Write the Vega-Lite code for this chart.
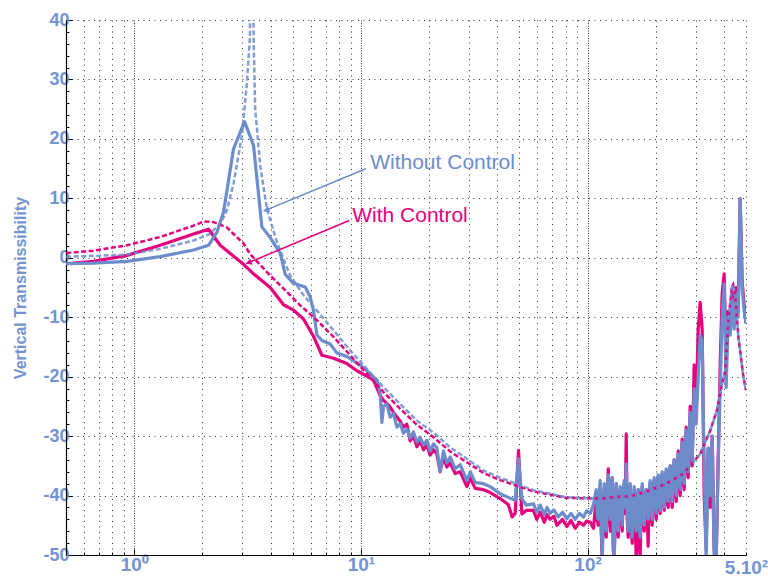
{
"$schema": "https://vega.github.io/schema/vega-lite/v6.json",
"width": 680, "height": 535,
"autosize": "none",
"padding": {"left": 66, "top": 20, "right": 22, "bottom": 28},
"background": "white",
"config": {"view": {"stroke": null}},
"datasets": {
"blueSolid": [
{"f":0.501,"db":-1.0},{"f":0.661,"db":-0.9},{"f":0.929,"db":-0.6},{"f":1.302,"db":0.2},{"f":1.827,"db":1.3},{"f":2.127,"db":2.1},{"f":2.317,"db":4.3},{"f":2.477,"db":7.7},{"f":2.742,"db":18.3},{"f":3.066,"db":22.9},{"f":3.359,"db":18.9},{"f":3.658,"db":5.2},{"f":3.98,"db":3.4},{"f":4.406,"db":0.8},{"f":4.635,"db":-2.8},{"f":5.043,"db":-4.3},{"f":5.679,"db":-4.9},{"f":5.975,"db":-6.6},{"f":6.178,"db":-8.9},{"f":6.395,"db":-13.0},{"f":6.73,"db":-13.9},{"f":7.321,"db":-14.5},{"f":7.836,"db":-16.0},{"f":8.675,"db":-16.6},{"f":9.929,"db":-18.1},{"f":10.63,"db":-19.0},{"f":11.37,"db":-20.1},{"f":11.8,"db":-20.6},{"f":12.17,"db":-22.9},{"f":12.38,"db":-27.7},{"f":12.58,"db":-25.0},{"f":13.02,"db":-24.6},{"f":13.46,"db":-26.8},{"f":13.92,"db":-26.2},{"f":14.42,"db":-28.5},{"f":14.91,"db":-27.9},{"f":15.41,"db":-29.5},{"f":15.95,"db":-28.8},{"f":16.5,"db":-30.3},{"f":17.06,"db":-29.3},{"f":17.66,"db":-31.0},{"f":18.26,"db":-30.2},{"f":18.89,"db":-31.5},{"f":19.55,"db":-30.7},{"f":20.21,"db":-32.5},{"f":20.91,"db":-31.3},{"f":21.64,"db":-32.0},{"f":22.38,"db":-35.9},{"f":23.14,"db":-32.5},{"f":23.95,"db":-34.5},{"f":24.77,"db":-33.5},{"f":26.06,"db":-35.5},{"f":27.42,"db":-34.8},{"f":29.35,"db":-37.5},{"f":30.35,"db":-36.0},{"f":31.93,"db":-37.8},{"f":34.74,"db":-38.0},{"f":37.19,"db":-38.5},{"f":41.16,"db":-39.7},{"f":44.65,"db":-40.3},{"f":47.93,"db":-40.8},{"f":49.58,"db":-33.8},{"f":51.31,"db":-40.5},{"f":53.6,"db":-41.6},{"f":57.72,"db":-41.4},{"f":59.7,"db":-42.8},{"f":61.78,"db":-41.6},{"f":64.5,"db":-43.2},{"f":66.2,"db":-42.0},{"f":68.39,"db":-43.0},{"f":71.0,"db":-42.4},{"f":74.2,"db":-43.6},{"f":77.5,"db":-42.8},{"f":81.03,"db":-43.9},{"f":84.5,"db":-43.0},{"f":88.2,"db":-44.0},{"f":92.0,"db":-43.0},{"f":95.92,"db":-43.6},{"f":99.0,"db":-42.6},{"f":102.8,"db":-43.0},{"f":106.2,"db":-41.5},
{"f":109.2,"db":-39},{"f":111.4,"db":-44},{"f":113.7,"db":-37.5},{"f":116.1,"db":-50},{"f":118.4,"db":-38},{"f":120.9,"db":-46},{"f":123.4,"db":-36.5},{"f":125.9,"db":-44},{"f":128.5,"db":-37},{"f":131.1,"db":-51},{"f":133.8,"db":-38},{"f":136.5,"db":-46},{"f":139.3,"db":-38.5},{"f":142.2,"db":-45},{"f":145.1,"db":-37.5},{"f":148.1,"db":-34.7},{"f":151.1,"db":-46},{"f":154.2,"db":-38},{"f":157.4,"db":-47},{"f":160.6,"db":-38.5},{"f":163.9,"db":-46},{"f":167.3,"db":-39},{"f":170.7,"db":-47},{"f":174.2,"db":-38},{"f":177.8,"db":-45},{"f":181.4,"db":-39},{"f":185.1,"db":-44},{"f":188.9,"db":-37.5},{"f":192.8,"db":-44},{"f":196.8,"db":-37},{"f":200.8,"db":-43},{"f":204.9,"db":-36.5},{"f":209.1,"db":-42.5},{"f":213.4,"db":-36},{"f":217.8,"db":-42},{"f":222.3,"db":-35.5},{"f":226.8,"db":-41},{"f":231.5,"db":-35},{"f":236.2,"db":-41},{"f":241.1,"db":-34},{"f":246.0,"db":-40},{"f":251.1,"db":-33},{"f":256.2,"db":-39},{"f":261.5,"db":-31},{"f":266.8,"db":-38},{"f":272.3,"db":-29},{"f":277.9,"db":-36},{"f":283.6,"db":-26},{"f":289.4,"db":-34},{"f":295.3,"db":-22},{"f":301.4,"db":-28},{"f":307.6,"db":-20},{"f":313.9,"db":-13},{"f":320.3,"db":-14},{"f":326.9,"db":-35},{"f":333.6,"db":-51},{"f":340.5,"db":-32},{"f":347.5,"db":-40},{"f":354.6,"db":-30},{"f":361.9,"db":-51},{"f":369.3,"db":-50},{"f":376.9,"db":-35},{"f":384.6,"db":-22},{"f":392.5,"db":-10},{"f":400.6,"db":-4.4},{"f":408.8,"db":-21.8},{"f":417.2,"db":-10},{"f":425.7,"db":-13},{"f":434.5,"db":-7},{"f":443.4,"db":-12},{"f":452.5,"db":-6},{"f":461.8,"db":-10},{"f":471.2,"db":9.9},{"f":480.9,"db":-5},{"f":490.8,"db":-9},{"f":500,"db":-11},
{"f":110.3,"db":-43},{"f":112.5,"db":-40},{"f":114.9,"db":-45},{"f":117.3,"db":-41},{"f":119.6,"db":-44},{"f":122.1,"db":-39},{"f":124.7,"db":-42},{"f":127.2,"db":-38},{"f":129.8,"db":-48},{"f":132.4,"db":-42},{"f":135.2,"db":-44},{"f":137.9,"db":-40},{"f":140.7,"db":-43},{"f":143.6,"db":-39},{"f":146.6,"db":-42},{"f":149.6,"db":-43},{"f":152.6,"db":-40},{"f":155.8,"db":-44},{"f":159.0,"db":-41},{"f":162.2,"db":-43},{"f":165.6,"db":-40},{"f":169.0,"db":-45},{"f":172.4,"db":-41},{"f":176.0,"db":-43},{"f":179.6,"db":-40},{"f":183.3,"db":-42},{"f":187.0,"db":-39},{"f":190.8,"db":-42},{"f":194.8,"db":-38},{"f":198.8,"db":-41},{"f":202.8,"db":-38},{"f":207.0,"db":-41},{"f":211.2,"db":-37},{"f":215.6,"db":-40},{"f":220.0,"db":-37},{"f":224.6,"db":-40},{"f":229.1,"db":-36},{"f":233.9,"db":-39},{"f":238.6,"db":-36},{"f":243.6,"db":-38},{"f":248.5,"db":-35},{"f":253.7,"db":-37},{"f":258.8,"db":-34},{"f":264.2,"db":-36},{"f":269.5,"db":-32},{"f":275.1,"db":-34},{"f":280.7,"db":-30}
],
"magSolid": [
{"f":0.501,"db":-1.0},{"f":0.661,"db":-0.6},{"f":0.929,"db":0.4},{"f":1.302,"db":2.1},{"f":1.827,"db":4.0},{"f":2.127,"db":4.8},{"f":2.395,"db":2.1},{"f":3.035,"db":-1.1},{"f":3.359,"db":-2.7},{"f":3.98,"db":-5.0},{"f":4.556,"db":-7.9},{"f":5.043,"db":-8.8},{"f":5.581,"db":-10.3},{"f":6.178,"db":-13.2},{"f":6.73,"db":-16.4},{"f":7.57,"db":-16.9},{"f":8.675,"db":-17.8},{"f":9.603,"db":-19.0},{"f":10.63,"db":-19.9},{"f":11.37,"db":-20.6},{"f":11.8,"db":-22.0},{"f":12.17,"db":-23.2},{"f":12.58,"db":-24.0},{"f":13.02,"db":-24.5},{"f":13.46,"db":-25.1},{"f":13.92,"db":-26.0},{"f":14.42,"db":-26.8},{"f":14.91,"db":-27.5},{"f":15.41,"db":-28.5},{"f":15.95,"db":-28.0},{"f":16.5,"db":-30.8},{"f":17.06,"db":-30.0},{"f":17.66,"db":-31.8},{"f":18.26,"db":-30.8},{"f":18.89,"db":-32.3},{"f":19.55,"db":-31.5},{"f":20.21,"db":-33.2},{"f":20.91,"db":-32.3},{"f":21.64,"db":-33.0},{"f":22.38,"db":-36.0},{"f":23.14,"db":-33.5},{"f":23.95,"db":-35.2},{"f":24.77,"db":-34.5},{"f":26.06,"db":-36.3},{"f":27.42,"db":-36.0},{"f":29.35,"db":-38.5},{"f":30.35,"db":-37.0},{"f":31.93,"db":-38.8},{"f":34.74,"db":-39.0},{"f":37.19,"db":-39.5},{"f":41.16,"db":-40.5},{"f":44.65,"db":-41.5},{"f":46.5,"db":-43.6},{"f":47.93,"db":-43.0},{"f":49.58,"db":-32.4},{"f":51.31,"db":-43.1},{"f":53.6,"db":-42.5},{"f":57.72,"db":-42.5},{"f":59.7,"db":-44.0},{"f":61.78,"db":-42.8},{"f":64.5,"db":-44.5},{"f":66.2,"db":-43.2},{"f":68.39,"db":-44.0},{"f":71.0,"db":-43.5},{"f":73.2,"db":-45.0},{"f":77.5,"db":-44.0},{"f":81.03,"db":-45.2},{"f":84.5,"db":-44.2},{"f":88.2,"db":-45.5},{"f":92.0,"db":-44.5},{"f":95.92,"db":-45.0},{"f":99.0,"db":-44.3},{"f":102.8,"db":-44.5},{"f":106.2,"db":-45.5},
{"f":109.2,"db":-40.5},{"f":111.4,"db":-45},{"f":113.7,"db":-39},{"f":116.1,"db":-51},{"f":118.4,"db":-39},{"f":120.9,"db":-47},{"f":123.4,"db":-35.5},{"f":125.9,"db":-46},{"f":128.5,"db":-37},{"f":131.1,"db":-51},{"f":133.8,"db":-38},{"f":136.5,"db":-47},{"f":139.3,"db":-39},{"f":142.2,"db":-46},{"f":145.1,"db":-38},{"f":148.1,"db":-29.6},{"f":151.1,"db":-47},{"f":154.2,"db":-38.5},{"f":157.4,"db":-48},{"f":160.6,"db":-39},{"f":163.9,"db":-51},{"f":167.3,"db":-39},{"f":170.7,"db":-50},{"f":174.2,"db":-38.5},{"f":177.8,"db":-46},{"f":181.4,"db":-39},{"f":185.1,"db":-48.5},{"f":188.9,"db":-38},{"f":192.8,"db":-45},{"f":196.8,"db":-37.5},{"f":200.8,"db":-44},{"f":204.9,"db":-37},{"f":209.1,"db":-43},{"f":213.4,"db":-36.5},{"f":217.8,"db":-42.5},{"f":222.3,"db":-36},{"f":226.8,"db":-42},{"f":231.5,"db":-35},{"f":236.2,"db":-42},{"f":241.1,"db":-34},{"f":246.0,"db":-41},{"f":251.1,"db":-32.5},{"f":256.2,"db":-40},{"f":261.5,"db":-30.5},{"f":266.8,"db":-39},{"f":272.3,"db":-28.5},{"f":277.9,"db":-37},{"f":283.6,"db":-25},{"f":289.4,"db":-35},{"f":295.3,"db":-18},{"f":301.4,"db":-26},{"f":307.6,"db":-12},{"f":313.9,"db":-7.5},{"f":320.3,"db":-12},{"f":326.9,"db":-40},{"f":333.6,"db":-49},{"f":340.5,"db":-32},{"f":347.5,"db":-42},{"f":354.6,"db":-30},{"f":361.9,"db":-49},{"f":369.3,"db":-51},{"f":376.9,"db":-34},{"f":384.6,"db":-18},{"f":392.5,"db":-6},{"f":400.6,"db":-2.7},{"f":408.8,"db":-18},{"f":417.2,"db":-9},{"f":425.7,"db":-12},{"f":434.5,"db":-6},{"f":443.4,"db":-11},{"f":452.5,"db":-5},{"f":461.8,"db":-9},{"f":471.2,"db":9.9},{"f":480.9,"db":-4},{"f":490.8,"db":-8},{"f":500,"db":-11},
{"f":110.3,"db":-44},{"f":112.5,"db":-41},{"f":114.9,"db":-46},{"f":117.3,"db":-42},{"f":119.6,"db":-45},{"f":122.1,"db":-40},{"f":124.7,"db":-43},{"f":127.2,"db":-39},{"f":129.8,"db":-49},{"f":132.4,"db":-43},{"f":135.2,"db":-45},{"f":137.9,"db":-41},{"f":140.7,"db":-44},{"f":143.6,"db":-40},{"f":146.6,"db":-43},{"f":149.6,"db":-44},{"f":152.6,"db":-41},{"f":155.8,"db":-45},{"f":159.0,"db":-42},{"f":162.2,"db":-44},{"f":165.6,"db":-48},{"f":169.0,"db":-46},{"f":172.4,"db":-42},{"f":176.0,"db":-44},{"f":179.6,"db":-41},{"f":183.3,"db":-43},{"f":187.0,"db":-40},{"f":190.8,"db":-43},{"f":194.8,"db":-39},{"f":198.8,"db":-42},{"f":202.8,"db":-39},{"f":207.0,"db":-42},{"f":211.2,"db":-38},{"f":215.6,"db":-41},{"f":220.0,"db":-38},{"f":224.6,"db":-41},{"f":229.1,"db":-37},{"f":233.9,"db":-40},{"f":238.6,"db":-37},{"f":243.6,"db":-39},{"f":248.5,"db":-36},{"f":253.7,"db":-38},{"f":258.8,"db":-35},{"f":264.2,"db":-37},{"f":269.5,"db":-33},{"f":275.1,"db":-35},{"f":280.7,"db":-31}
],
"blueDash": [
{"f":0.501,"db":0.2},{"f":0.661,"db":0.3},{"f":0.929,"db":0.55},{"f":1.302,"db":1.5},{"f":1.827,"db":2.9},{"f":2.127,"db":3.9},{"f":2.395,"db":5.7},{"f":2.564,"db":8.0},{"f":2.742,"db":12.5},{"f":2.987,"db":20.6},{"f":3.142,"db":29.5},{"f":3.238,"db":37},{"f":3.289,"db":70},{"f":3.366,"db":36},{"f":3.418,"db":25},{"f":3.595,"db":15.5},{"f":3.849,"db":8.2},{"f":4.262,"db":2.6},{"f":4.877,"db":-3.0},{"f":5.581,"db":-6.3},{"f":6.395,"db":-8.9},{"f":7.57,"db":-12.2},{"f":8.97,"db":-15.6},{"f":10.63,"db":-18.7},{"f":12.58,"db":-21.8},{"f":14.91,"db":-24.6},{"f":17.66,"db":-27.4},{"f":20.91,"db":-29.4},{"f":24.77,"db":-31.9},{"f":29.35,"db":-33.8},{"f":34.74,"db":-35.8},{"f":41.16,"db":-37.0},{"f":57.72,"db":-39.1},{"f":81.03,"db":-40.3},{"f":113.7,"db":-40.5},{"f":159.4,"db":-40.0},{"f":188.9,"db":-39.1},{"f":222.3,"db":-38.0},{"f":264.8,"db":-36.3},{"f":313.9,"db":-33.0},{"f":347.5,"db":-29.1},{"f":371.8,"db":-25.7},{"f":392.5,"db":-21.2},{"f":404.6,"db":-19},{"f":418.3,"db":-10.5},{"f":433.0,"db":-4.9},{"f":438.8,"db":-4.5},{"f":448.0,"db":-6.5},{"f":463.1,"db":-13.4},{"f":487.2,"db":-20.1},{"f":500,"db":-22.3}
],
"magDash": [
{"f":0.501,"db":0.8},{"f":0.661,"db":1.2},{"f":0.929,"db":2.1},{"f":1.302,"db":3.5},{"f":1.827,"db":5.4},{"f":2.022,"db":6.1},{"f":2.238,"db":6.0},{"f":2.564,"db":5.1},{"f":2.742,"db":4.0},{"f":3.035,"db":2.4},{"f":3.249,"db":0.6},{"f":3.849,"db":-2.4},{"f":4.556,"db":-5.2},{"f":5.398,"db":-8.0},{"f":6.395,"db":-10.5},{"f":7.57,"db":-13.3},{"f":8.97,"db":-16.4},{"f":10.63,"db":-19.5},{"f":12.58,"db":-22.6},{"f":14.91,"db":-25.4},{"f":17.66,"db":-28.1},{"f":20.91,"db":-30.2},{"f":24.77,"db":-32.6},{"f":29.35,"db":-34.4},{"f":34.74,"db":-36.2},{"f":41.16,"db":-37.4},{"f":57.72,"db":-39.3},{"f":81.03,"db":-40.4},{"f":113.7,"db":-40.5},{"f":159.4,"db":-40.0},{"f":188.9,"db":-39.1},{"f":222.3,"db":-38.0},{"f":264.8,"db":-36.3},{"f":313.9,"db":-33.0},{"f":347.5,"db":-29.1},{"f":371.8,"db":-25.7},{"f":392.5,"db":-21.2},{"f":404.6,"db":-19},{"f":418.3,"db":-10.5},{"f":433.0,"db":-4.9},{"f":438.8,"db":-4.5},{"f":448.0,"db":-6.5},{"f":463.1,"db":-13.4},{"f":487.2,"db":-20.1},{"f":500,"db":-22.3}
],
"notes": [
{"s":"Without Control","f":10.99,"db":15.86,"f2":3.72,"db2":7.84,"fs":10.52,"dbs":14.97,"fh":3.825,"dbh":8.02},
{"s":"With Control","f":9.155,"db":6.95,"f2":3.11,"db2":-1.01,"fs":8.88,"dbs":6.28,"fh":3.20,"dbh":-0.82}
]
},
"encoding": {
"x": {"field":"f","type":"quantitative","scale":{"type":"log","domain":[0.5,500],"nice":false},
"axis":{"values":[0.5,0.6,0.7,0.8,0.9,1,2,3,4,5,6,7,8,9,10,20,30,40,50,60,70,80,90,100,200,300,400,500],
"labelExpr":"datum.value==1?'10⁰':datum.value==10?'10¹':datum.value==100?'10²':datum.value==500?'5.10²':''",
"title":null,"labelOverlap":false,"labelFlush":false,
"labelFont":"Liberation Sans","labelFontSize":19,"labelFontWeight":"bold","labelColor":"#7393d3","labelPadding":6,
"tickSize":{"condition":{"test":"datum.value==1||datum.value==10||datum.value==100","value":-6},"value":-3},
"tickColor":"#000","domainColor":"#000","domainWidth":1.2,
"grid":true,"gridColor":"#333","gridWidth":1,
"gridDash":{"condition":{"test":"datum.value==1||datum.value==10||datum.value==100","value":[1,1.5]},"value":[1,4.5]}}},
"y": {"field":"db","type":"quantitative","scale":{"domain":[-50,40],"nice":false,"zero":false},"axis":null}
},
"layer": [
{"data":{"name":"magSolid"},"mark":{"type":"line","color":"#e6007e","strokeWidth":3.2,"clip":true,"strokeJoin":"round"},
"encoding":{"y":{"field":"db","type":"quantitative","scale":{"domain":[-50,40],"nice":false,"zero":false},
"axis":{"values":[-50,-40,-30,-20,-10,0,10,20,30,40],"labelExpr":"''+datum.value",
"title":"Vertical Transmissibility","titleFont":"Liberation Sans","titleFontSize":16,"titleFontWeight":"bold","titleColor":"#7393d3",
"titleX":-46,"titleY":267.5,"titleAngle":-90,"titleAlign":"center","titleBaseline":"middle",
"labelFont":"Liberation Sans","labelFontSize":18,"labelFontWeight":"bold","labelColor":"#7393d3","labelPadding":3,
"tickSize":-6,"tickColor":"#000","domainColor":"#000","domainWidth":1.2,
"grid":true,"gridDash":[1,4.5],"gridColor":"#333","gridWidth":1}}}},
{"data":{"name":"blueSolid"},"mark":{"type":"line","color":"#6c8ccc","strokeWidth":3.2,"clip":true,"strokeJoin":"round"},
"encoding":{"y":{"field":"db","type":"quantitative","scale":{"domain":[-50,40],"nice":false,"zero":false},
"axis":{"orient":"left","values":[-48,-46,-44,-42,-38,-36,-34,-32,-28,-26,-24,-22,-18,-16,-14,-12,-8,-6,-4,-2,2,4,6,8,12,14,16,18,22,24,26,28,32,34,36,38],
"labels":false,"grid":false,"domain":false,"tickSize":-3,"tickColor":"#000","title":null}}}},
{"data":{"name":"magDash"},"mark":{"type":"line","color":"#e6007e","strokeWidth":2.5,"strokeDash":[5,2.5],"clip":true}},
{"data":{"name":"blueDash"},"mark":{"type":"line","color":"#6c8ccc","strokeWidth":2.5,"strokeDash":[5,2.5],"clip":true,"opacity":0.85}},
{"data":{"name":"notes"},"mark":{"type":"rule","strokeWidth":1.5},
"encoding":{"x":{"field":"fs","type":"quantitative"},"y":{"field":"dbs","type":"quantitative"},"x2":{"field":"f2"},"y2":{"field":"db2"},
"color":{"field":"s","type":"nominal","scale":{"domain":["Without Control","With Control"],"range":["#6c8ccc","#e6007e"]},"legend":null}}},
{"data":{"name":"notes"},"mark":{"type":"point","shape":"triangle-up","filled":true,"size":45,"angle":247.5,"opacity":1},
"encoding":{"x":{"field":"fh","type":"quantitative"},"y":{"field":"dbh","type":"quantitative"},
"color":{"field":"s","type":"nominal","legend":null}}},
{"data":{"name":"notes"},"mark":{"type":"text","align":"left","baseline":"middle","font":"Liberation Sans","fontSize":21},
"encoding":{"text":{"field":"s"},"color":{"field":"s","type":"nominal","legend":null}}}
],
"resolve": {"axis": {"y": "independent"}}
}
